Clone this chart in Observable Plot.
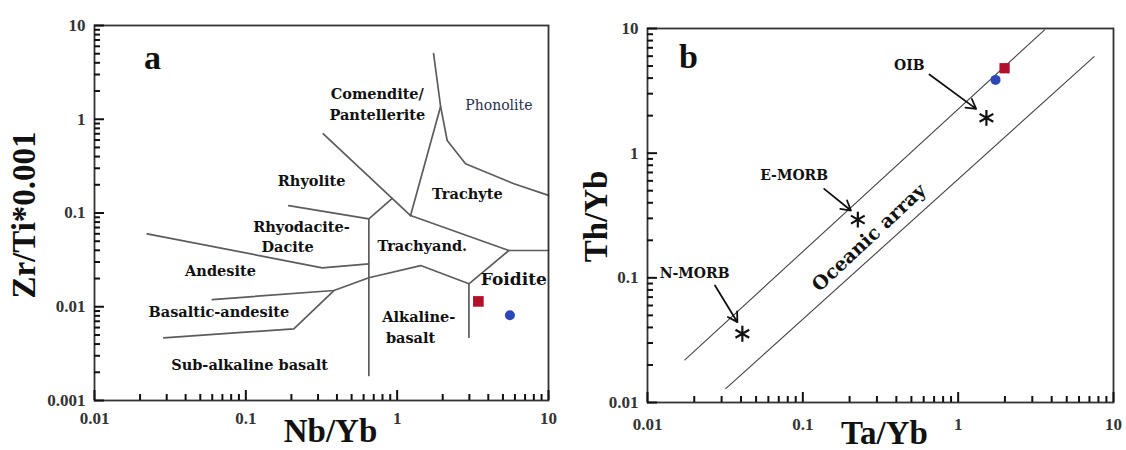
<!DOCTYPE html>
<html><head><meta charset="utf-8">
<script src="https://cdn.jsdelivr.net/npm/d3@7"></script>
<script src="https://cdn.jsdelivr.net/npm/@observablehq/plot@0.6"></script>
<style>
body{margin:0;background:#fff;}
#wrap{display:flex;width:1126px;height:450px;}
#wrap svg{display:block;}
</style></head><body><div id="wrap"></div>
<script>
// ---------- Panel a: Zr/Ti*0.001 vs Nb/Yb (Pearce 1996) ----------
const phonoliteTrachyte = [[1.74,5.02],[1.936,1.37],[2.14,0.593],[2.83,0.335],[5.91,0.205],[10,0.154]];
const comenditeTrachyte = [[1.936,1.37],[1.226,0.094]];
const rhyoliteComendite = [[0.325,0.70],[1.226,0.094]];
const rhyodaciteRhyolite = [[0.192,0.120],[0.65,0.0867],[0.928,0.143]];
const trachyandTop = [[1.226,0.094],[5.47,0.0398],[10,0.0398]];
const foiditeLine = [[5.47,0.0398],[2.98,0.01757],[2.98,0.00473]];
const alkalineTop = [[2.98,0.01757],[1.43,0.0275],[0.65,0.0204],[0.382,0.0149],[0.060,0.01194]];
const subalkalineTop = [[0.0287,0.00466],[0.2075,0.00582],[0.382,0.0149]];
const andesiteTop = [[0.0223,0.060],[0.32,0.026],[0.65,0.0287]];
const divideLine = [[0.65,0.0867],[0.65,0.00185]];

const fieldNamesA = ["Comendite/\nPantellerite","Rhyolite","Trachyte","Rhyodacite-","Dacite","Trachyand.","Andesite","Basaltic-andesite","Alkaline-","basalt","Sub-alkaline basalt"];
const fieldNbYb = [0.739,0.272,2.91,0.233,0.1887,1.465,0.068,0.0663,1.391,1.226,0.1058];
const fieldZrTi = [1.51,0.233,0.1667,0.0753,0.045,0.0469,0.0254,0.00912,0.00826,0.00493,0.0025];
const phonoliteLabel = ["Phonolite"], phonoliteNbYb = [4.70], phonoliteZrTi = [1.40];
const foiditeLabel = ["Foidite"], foiditeNbYb = [5.90], foiditeZrTi = [0.0194];

// samples (square, circle)
const sampleNames = ["Sample 1","Sample 2"];
const sampleNbYb = [3.44, 5.56];
const sampleZrTi = [0.0114, 0.0081];
const sampleTaYb = [1.99, 1.74];
const sampleThYb = [4.8, 3.87];

// ---------- Panel b: Th/Yb vs Ta/Yb ----------
const arrayUpper = [[0.0174,0.022],[3.6,9.75]];
const arrayLower = [[0.0319,0.0129],[7.5,5.95]];
const refNames = ["N-MORB","E-MORB","OIB"];
const refTaYb = [0.0408, 0.226, 1.52];
const refThYb = [0.0356, 0.293, 1.92];
const refLabelTaYb = [0.0201, 0.0879, 0.485];
const refLabelThYb = [0.1077, 0.661, 5.04];
const arrowFromTaYb = [0.0272, 0.1372, 0.653];
const arrowFromThYb = [0.0867, 0.5173, 4.27];
const arrowToTaYb = [0.0379, 0.204, 1.306];
const arrowToThYb = [0.0441, 0.3465, 2.266];
const arrayLabel = ["Oceanic array"], arrayLabelTaYb = [0.267], arrayLabelThYb = [0.21];

const majorA_x = [0.01,0.1,1,10], majorA_y = [0.001,0.01,0.1,1,10];
const majorB_x = [0.01,0.1,1,10], majorB_y = [0.01,0.1,1,10];

const FONT = "Liberation Serif, 'Times New Roman', serif";
const LFONT = "DejaVu Serif, serif";
const RED = "#b3102c", BLUE = "#2f47b6";

function minors(lo, hi){ const t=[]; for(let e=lo;e<hi;e++) for(let k=2;k<=9;k++) t.push(+(k*Math.pow(10,e)).toPrecision(3)); return t; }
function toRows(named){ const rows=[]; for(const [id,pts] of Object.entries(named)) for(const p of pts) rows.push({id,x:p[0],y:p[1]}); return rows; }

// inward ticks as short rules inset from the frame
function axes(W, H, xMaj, yMaj, xMin, yMin, padX, padY){
  const lab = {fontFamily: FONT, fontSize: 17, fontWeight: "bold", fill: "#333", label: null, tickFormat: d => String(d)};
  return [
    Plot.ruleX(xMaj, {x: d => d, insetTop: H - 10, stroke: "#111", strokeWidth: 2}),
    Plot.ruleX(xMin, {x: d => d, insetTop: H - 6, stroke: "#111", strokeWidth: 2}),
    Plot.ruleY(yMaj, {y: d => d, insetRight: W - 10, stroke: "#111", strokeWidth: 2}),
    Plot.ruleY(yMin, {y: d => d, insetRight: W - 6, stroke: "#111", strokeWidth: 2}),
    Plot.axisX({anchor: "bottom", ticks: xMaj, tickSize: 0, tickPadding: padX, ...lab}),
    Plot.axisY({anchor: "left", ticks: yMaj, tickSize: 0, tickPadding: padY, ...lab})
  ];
}

const boundaryA = toRows({phonoliteTrachyte, comenditeTrachyte, rhyoliteComendite, rhyodaciteRhyolite, trachyandTop, foiditeLine, alkalineTop, subalkalineTop, andesiteTop, divideLine});

const plotA = Plot.plot({
  width: 570, height: 450,
  marginLeft: 94, marginRight: 22, marginTop: 25, marginBottom: 50,
  x: {type: "log", domain: [0.01, 10]},
  y: {type: "log", domain: [0.001, 10]},
  marks: [
    Plot.line(boundaryA, {x: "x", y: "y", z: "id", stroke: "#5c5c5c", strokeWidth: 1.7}),
    Plot.frame({stroke: "#333", strokeWidth: 1.8}),
    ...axes(454, 375, majorA_x, majorA_y, minors(-2,1), minors(-3,1), 11, 9),
    Plot.text(fieldNamesA, {x: (d,i) => fieldNbYb[i], y: (d,i) => fieldZrTi[i], text: d => d, fontFamily: LFONT, fontWeight: "bold", fontSize: 14.5, fill: "#111", lineHeight: 1.5}),
    Plot.text(phonoliteLabel, {x: (d,i) => phonoliteNbYb[i], y: (d,i) => phonoliteZrTi[i], text: d => d, fontFamily: LFONT, fontSize: 14, fill: "#26314f"}),
    Plot.text(foiditeLabel, {x: (d,i) => foiditeNbYb[i], y: (d,i) => foiditeZrTi[i], text: d => d, fontFamily: LFONT, fontWeight: "bold", fontSize: 17, fill: "#111"}),
    Plot.dot(sampleNames.slice(0,1), {x: (d,i) => sampleNbYb[i], y: (d,i) => sampleZrTi[i], symbol: "square", r: 6, fill: RED}),
    Plot.dot(sampleNames.slice(1,2), {x: (d,i) => sampleNbYb[i+1], y: (d,i) => sampleZrTi[i+1], symbol: "circle", r: 5, fill: BLUE}),
    Plot.text(["a"], {frameAnchor: "top-left", dx: 58, dy: 33, textAnchor: "middle", lineAnchor: "middle", fontFamily: FONT, fontWeight: "bold", fontSize: 34, fill: "#111"}),
    Plot.text(["Nb/Yb"], {frameAnchor: "bottom", dx: 9, dy: 41, lineAnchor: "bottom", fontFamily: FONT, fontWeight: "bold", fontSize: 33, fill: "#111"}),
    Plot.text(["Zr/Ti*0.001"], {frameAnchor: "left", dx: -70, dy: 2, rotate: -90, textAnchor: "middle", lineAnchor: "middle", fontFamily: FONT, fontWeight: "bold", fontSize: 33, fill: "#111"})
  ]
});

const boundaryB = toRows({arrayUpper, arrayLower});

const plotB = Plot.plot({
  width: 556, height: 450,
  marginLeft: 77, marginRight: 13, marginTop: 28, marginBottom: 48,
  x: {type: "log", domain: [0.01, 10]},
  y: {type: "log", domain: [0.01, 10]},
  marks: [
    Plot.line(boundaryB, {x: "x", y: "y", z: "id", stroke: "#444", strokeWidth: 1.1}),
    Plot.frame({stroke: "#333", strokeWidth: 1.8}),
    ...axes(466, 374, majorB_x, majorB_y, minors(-2,1), minors(-2,1), 15, 9),
    Plot.arrow(refNames, {x1: (d,i) => arrowFromTaYb[i], y1: (d,i) => arrowFromThYb[i], x2: (d,i) => arrowToTaYb[i], y2: (d,i) => arrowToThYb[i], stroke: "#111", strokeWidth: 1.8, headLength: 9}),
    Plot.dot(refNames, {x: (d,i) => refTaYb[i], y: (d,i) => refThYb[i], symbol: "asterisk", r: 7.5, stroke: "#111", strokeWidth: 2.2}),
    Plot.text(refNames, {x: (d,i) => refLabelTaYb[i], y: (d,i) => refLabelThYb[i], text: d => d, fontFamily: LFONT, fontWeight: "bold", fontSize: 14, fill: "#111"}),
    Plot.text(arrayLabel, {x: (d,i) => arrayLabelTaYb[i], y: (d,i) => arrayLabelThYb[i], text: d => d, rotate: -43, fontFamily: LFONT, fontWeight: "bold", fontSize: 19, fill: "#111"}),
    Plot.dot(sampleNames.slice(0,1), {x: (d,i) => sampleTaYb[i], y: (d,i) => sampleThYb[i], symbol: "square", r: 5.8, fill: RED}),
    Plot.dot(sampleNames.slice(1,2), {x: (d,i) => sampleTaYb[i+1], y: (d,i) => sampleThYb[i+1], symbol: "circle", r: 5, fill: BLUE}),
    Plot.text(["b"], {frameAnchor: "top-left", dx: 41, dy: 29, textAnchor: "middle", lineAnchor: "middle", fontFamily: FONT, fontWeight: "bold", fontSize: 34, fill: "#111"}),
    Plot.text(["Ta/Yb"], {frameAnchor: "bottom", dx: 4, dy: 41, lineAnchor: "bottom", fontFamily: FONT, fontWeight: "bold", fontSize: 33, fill: "#111"}),
    Plot.text(["Th/Yb"], {frameAnchor: "left", dx: -51, dy: 1, rotate: -90, textAnchor: "middle", lineAnchor: "middle", fontFamily: FONT, fontWeight: "bold", fontSize: 33, fill: "#111"})
  ]
});

document.getElementById("wrap").append(plotA, plotB);
</script></body></html>
